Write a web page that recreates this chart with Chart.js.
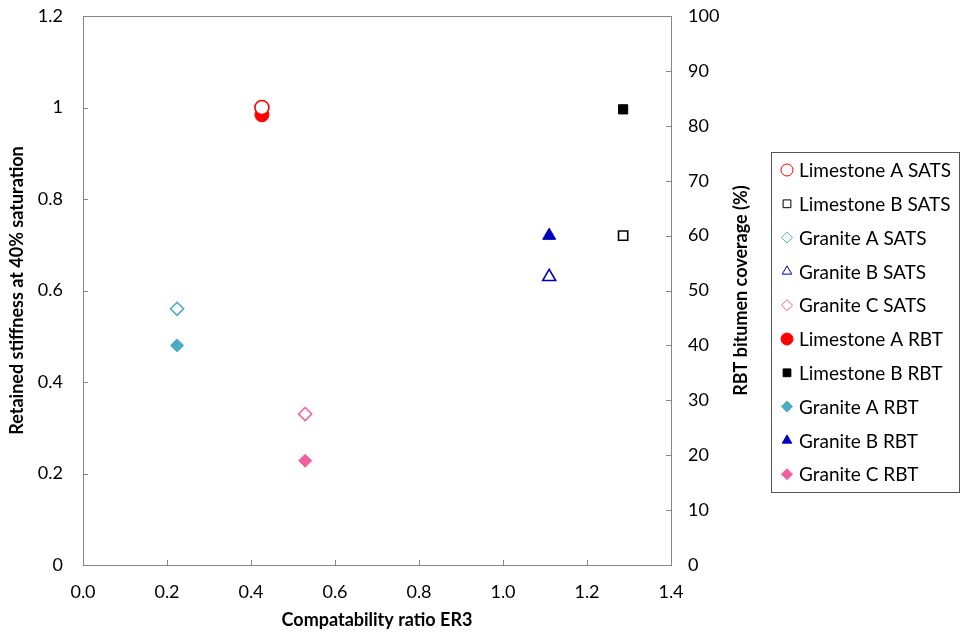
<!DOCTYPE html>
<html>
<head>
<meta charset="utf-8">
<script src="https://cdn.jsdelivr.net/npm/chart.js@4/dist/chart.umd.min.js"></script>
<style>
  html, body { margin: 0; padding: 0; background: #fff; }
  #wrap { width: 961px; height: 637px; }
</style>
</head>
<body>
<div id="wrap"><canvas id="chart" width="961" height="637"></canvas></div>
<script>
// series data
const seriesNames = ['Limestone A', 'Limestone B', 'Granite A', 'Granite B', 'Granite C'];
const ratioER3 = [0.426, 1.286, 0.224, 1.11, 0.529];
const satsStiffness = [1.0, 0.72, 0.56, 0.63, 0.33];   // left axis
const rbtCoverage = [82, 83, 40, 60, 19];              // right axis (%)
const markerStyles = ['circle', 'rect', 'rectRot', 'triangle', 'rectRot'];
const markerColors = ['#ff0000', '#000000', '#4bacc6', '#0000c0', '#f0609e'];
const markerSizes = [7, 6.5, 6.5, 7.5, 6.5];

const xTicks = [0, 0.2, 0.4, 0.6, 0.8, 1.0, 1.2, 1.4];

const FONT = 'Lato';
const axisGray = '#868686';

const datasets = [];
seriesNames.forEach((name, i) => {
    datasets.push({
        label: name + ' SATS',
        data: [{ x: ratioER3[i], y: satsStiffness[i] }],
        yAxisID: 'y',
        pointStyle: markerStyles[i],
        pointRadius: markerSizes[i],
        borderColor: markerColors[i],
        backgroundColor: '#ffffff',
        borderWidth: 1.6
    });
});
seriesNames.forEach((name, i) => {
    datasets.push({
        label: name + ' RBT',
        data: [{ x: ratioER3[i], y: rbtCoverage[i] }],
        yAxisID: 'y2',
        pointStyle: markerStyles[i],
        pointRadius: markerSizes[i],
        borderColor: markerColors[i],
        backgroundColor: markerColors[i],
        borderWidth: 1
    });
});

// frame round the plot area, short ticks pointing inward, right axis title
const framePlugin = {
    id: 'frame',
    afterDraw(chart) {
        const { ctx, chartArea: a, scales } = chart;
        ctx.save();
        ctx.strokeStyle = axisGray;
        ctx.lineWidth = 1;
        ctx.strokeRect(a.left + 0.5, a.top + 0.5, a.right - a.left, a.bottom - a.top);
        ctx.beginPath();
        scales.x.ticks.forEach(t => {
            const px = Math.round(scales.x.getPixelForValue(t.value)) + 0.5;
            ctx.moveTo(px, a.bottom); ctx.lineTo(px, a.bottom - 5);
        });
        scales.y.ticks.forEach(t => {
            const py = Math.round(scales.y.getPixelForValue(t.value)) + 0.5;
            ctx.moveTo(a.left, py); ctx.lineTo(a.left + 5, py);
        });
        scales.y2.ticks.forEach(t => {
            const py = Math.round(scales.y2.getPixelForValue(t.value)) + 0.5;
            ctx.moveTo(a.right, py); ctx.lineTo(a.right - 5, py);
        });
        ctx.stroke();

        // right title reads bottom to top, like the left one
        ctx.translate(741, (a.top + a.bottom) / 2);
        ctx.rotate(-Math.PI / 2);
        ctx.font = 'bold 18px ' + FONT;
        ctx.fillStyle = '#000';
        ctx.textAlign = 'center';
        ctx.textBaseline = 'middle';
        ctx.fillText('RBT bitumen coverage (%)', 0, 0);
        ctx.restore();
    }
};

// boxed legend on the right
const boxLegend = {
    id: 'boxLegend',
    afterDraw(chart) {
        const ctx = chart.ctx;
        const left = 771, top = 152, width = 188, height = 340;
        ctx.save();
        ctx.fillStyle = '#fff';
        ctx.fillRect(left, top, width, height);
        ctx.strokeStyle = '#555';
        ctx.lineWidth = 1;
        ctx.strokeRect(left + 0.5, top + 0.5, width, height);
        ctx.font = '19px ' + FONT;
        ctx.textBaseline = 'middle';
        chart.data.datasets.forEach((ds, i) => {
            const y = 170 + i * 33.8;
            ctx.strokeStyle = ds.borderColor;
            ctx.fillStyle = ds.backgroundColor;
            ctx.lineWidth = 1;
            Chart.helpers.drawPoint(ctx, {
                pointStyle: ds.pointStyle,
                radius: ds.pointStyle === 'circle' ? 6 : 5.5,
                rotation: 0,
                borderWidth: 1
            }, 787, y);
            ctx.fillStyle = '#000';
            ctx.fillText(ds.label, 799, y + 1);
        });
        ctx.restore();
    }
};

const noVPad = s => { s.paddingTop = 0; s.paddingBottom = 0; };

new Chart(document.getElementById('chart'), {
    type: 'scatter',
    data: { datasets },
    plugins: [framePlugin, boxLegend],
    options: {
        responsive: false,
        animation: false,
        layout: { padding: { left: 0, right: 206, top: 16, bottom: 0 } },
        plugins: { legend: { display: false }, tooltip: { enabled: false } },
        scales: {
            x: {
                type: 'linear',
                min: 0, max: 1.4,
                afterBuildTicks: s => { s.ticks = xTicks.map(v => ({ value: v })); },
                afterFit: s => { s.height = 72; s.paddingLeft = 0; s.paddingRight = 0; },
                grid: { display: false, drawTicks: false },
                border: { display: false },
                ticks: {
                    padding: 16,
                    color: '#000',
                    font: { family: FONT, size: 18 },
                    callback: v => v.toFixed(1)
                },
                title: {
                    display: true,
                    text: 'Compatability ratio ER3',
                    color: '#000',
                    font: { family: FONT, size: 18, weight: 'bold' },
                    padding: { top: 4, bottom: 6 }
                }
            },
            y: {
                position: 'left',
                min: 0, max: 1.2,
                ticks: {
                    stepSize: 0.2,
                    padding: 20,
                    color: '#000',
                    font: { family: FONT, size: 18 },
                    callback: v => Math.round(v * 10) / 10
                },
                afterFit: s => { s.width = 83; noVPad(s); },
                grid: { display: false, drawTicks: false },
                border: { display: false },
                title: {
                    display: true,
                    text: 'Retained stiffness at 40% saturation',
                    color: '#000',
                    font: { family: FONT, size: 18, weight: 'bold' },
                    padding: { top: 6, bottom: 4 }
                }
            },
            y2: {
                position: 'right',
                min: 0, max: 100,
                ticks: {
                    stepSize: 10,
                    padding: 17,
                    color: '#000',
                    font: { family: FONT, size: 18 }
                },
                afterFit: s => { s.width = 84; noVPad(s); },
                grid: { display: false, drawTicks: false },
                border: { display: false }
            }
        }
    }
});
</script>
</body>
</html>
